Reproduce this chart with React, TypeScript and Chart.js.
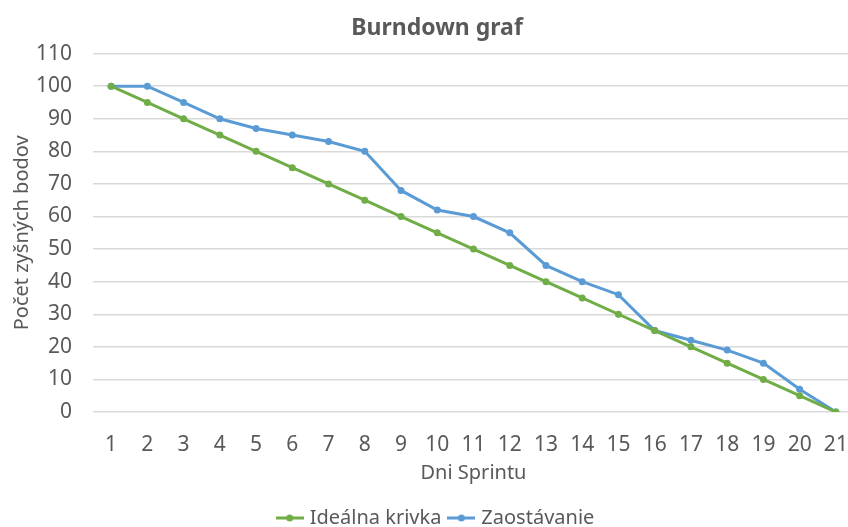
import React, { useEffect, useRef } from "react";
import { Chart, registerables } from "chart.js";

Chart.register(...registerables);

const days = ["1","2","3","4","5","6","7","8","9","10","11","12","13","14","15","16","17","18","19","20","21"];
const idealna = [100, 95, 90, 85, 80, 75, 70, 65, 60, 55, 50, 45, 40, 35, 30, 25, 20, 15, 10, 5, 0];
const zaostavanie = [100, 100, 95, 90, 87, 85, 83, 80, 68, 62, 60, 55, 45, 40, 36, 25, 22, 19, 15, 7, 0];

const GREEN = "#70AD47";
const BLUE = "#5B9BD5";
const TEXT = "#595959";
const FONT = "'Noto Sans', sans-serif";

function legendIcon(color: string) {
  const c = document.createElement("canvas");
  c.width = 28;
  c.height = 10;
  const ctx = c.getContext("2d")!;
  ctx.strokeStyle = color;
  ctx.lineWidth = 3;
  ctx.beginPath();
  ctx.moveTo(0, 5);
  ctx.lineTo(28, 5);
  ctx.stroke();
  ctx.fillStyle = color;
  ctx.beginPath();
  ctx.arc(14, 5, 3.5, 0, Math.PI * 2);
  ctx.fill();
  return c;
}

export default function App() {
  const ref = useRef<HTMLCanvasElement>(null);
  useEffect(() => {
    const icons = [legendIcon(GREEN), legendIcon(BLUE)];
    const chart = new Chart(ref.current!, {
      type: "line",
      data: {
        labels: days,
        datasets: [
          {
            label: "Ideálna krivka",
            data: idealna,
            borderColor: GREEN,
            backgroundColor: GREEN,
            borderWidth: 3,
            pointRadius: 3.5,
            pointBorderWidth: 0,
            tension: 0,
          },
          {
            label: "Zaostávanie",
            data: zaostavanie,
            borderColor: BLUE,
            backgroundColor: BLUE,
            borderWidth: 3,
            pointRadius: 3.5,
            pointBorderWidth: 0,
            tension: 0,
          },
        ],
      },
      options: {
        responsive: false,
        animation: false,
        layout: { padding: { left: 20, right: 30, top: 15, bottom: 0 } },
        plugins: {
          title: {
            display: true,
            text: "Burndown graf",
            color: TEXT,
            font: { family: FONT, size: 23, weight: "bold" },
            padding: { top: 0, bottom: 11 },
          },
          legend: {
            position: "bottom",
            labels: {
              color: TEXT,
              font: { family: FONT, size: 20 },
              usePointStyle: true,
              boxWidth: 28,
              padding: 10,
              generateLabels: (ch: any) => {
                const base = Chart.defaults.plugins.legend.labels.generateLabels(ch);
                return base.map((l: any, i: number) => ({ ...l, pointStyle: icons[i] }));
              },
            },
          },
          tooltip: { enabled: false },
        },
        scales: {
          x: {
            offset: true,
            grid: { display: false, drawTicks: false },
            border: { display: false },
            ticks: { color: TEXT, font: { family: FONT, size: 21 }, padding: 20 },
            title: {
              display: true,
              text: "Dni Sprintu",
              color: TEXT,
              font: { family: FONT, size: 20 },
              padding: { top: 0, bottom: 13 },
            },
            afterFit: (s: any) => {
              s.height = 86;
            },
          },
          y: {
            min: 0,
            max: 110,
            ticks: { stepSize: 10, color: TEXT, font: { family: FONT, size: 21 }, padding: 21 },
            grid: { color: "#d9d9d9", lineWidth: 1.5, drawTicks: false },
            border: { display: false },
            title: {
              display: true,
              text: "Počet zyšných bodov",
              color: TEXT,
              font: { family: FONT, size: 20 },
              padding: { top: -10, bottom: 0 },
            },
            afterFit: (s: any) => {
              s.width = 73;
            },
          },
        },
      },
    });
    return () => chart.destroy();
  }, []);
  return (
    <div style={{ position: "fixed", left: 0, top: 0, width: 848, height: 527, overflow: "hidden", background: "#fff" }}>
      <canvas ref={ref} width={884} height={538} style={{ display: "block" }} />
    </div>
  );
}
